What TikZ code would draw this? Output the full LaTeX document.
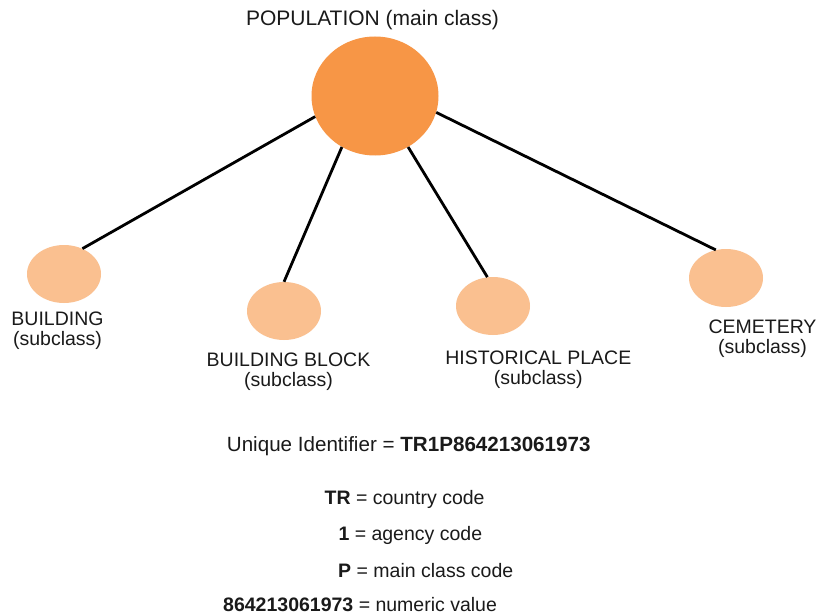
\documentclass[tikz,border=0pt]{standalone}
\usepackage{fontspec}
\setmainfont{Liberation Sans}
\usetikzlibrary{shapes.geometric}
\definecolor{mainorange}{HTML}{F79646}
\definecolor{suborange}{HTML}{FAC090}
\definecolor{txt}{HTML}{1A1A1A}
\begin{document}
\begin{tikzpicture}[x=1pt,y=-1pt,
  mainclass/.style={ellipse,fill=mainorange,draw=none,minimum width=127pt,minimum height=119pt,inner sep=0},
  subclass/.style={ellipse,fill=suborange,draw=none,minimum width=74pt,minimum height=58pt,inner sep=0},
  lbl/.style={font=\fontsize{19.5}{20}\selectfont,text=txt,inner sep=0,align=center},
  link/.style={line width=2.8pt,black}]
\useasboundingbox[fill=white] (0,0) rectangle (819,615);
\node[mainclass] (main) at (375,96) {};
\node[subclass] (b1) at (64,274) {};
\node[subclass] (b2) at (284,311) {};
\node[subclass] (b3) at (493,306) {};
\node[subclass] (b4) at (726,278) {};
\draw[link] (main.199.5) -- (b1.54);
\draw[link] (main.237.6) -- (b2.90);
\draw[link] (main.303) -- (b3.101.7);
\draw[link] (main.345) -- (b4.110);
\node[lbl,font=\fontsize{21}{22}\selectfont,anchor=base] (tmain) at (372.5,26) {POPULATION (main class)};
\node[lbl] (t1) at (57.5,330.3) {BUILDING\\(subclass)};
\node[lbl] (t2) at (288.5,371.5) {BUILDING BLOCK\\(subclass)};
\node[lbl] (t3) at (538.3,369.3) {HISTORICAL PLACE\\(subclass)};
\node[lbl] (t4) at (762.5,338.5) {CEMETERY\\(subclass)};
\node[lbl,font=\fontsize{20.6}{22}\selectfont,anchor=base west] (uid) at (226.7,451) {Unique Identifier = \textbf{TR1P864213061973}};
\node[lbl,anchor=base west] (c1) at (324.5,504) {\textbf{TR} = country code};
\node[lbl,anchor=base west] (c2) at (338.3,540.5) {\textbf{1} = agency code};
\node[lbl,anchor=base west] (c3) at (338,577) {\textbf{P} = main class code};
\node[lbl,anchor=base west] (c4) at (223,611.5) {\textbf{864213061973} = numeric value};
\end{tikzpicture}
\end{document}
